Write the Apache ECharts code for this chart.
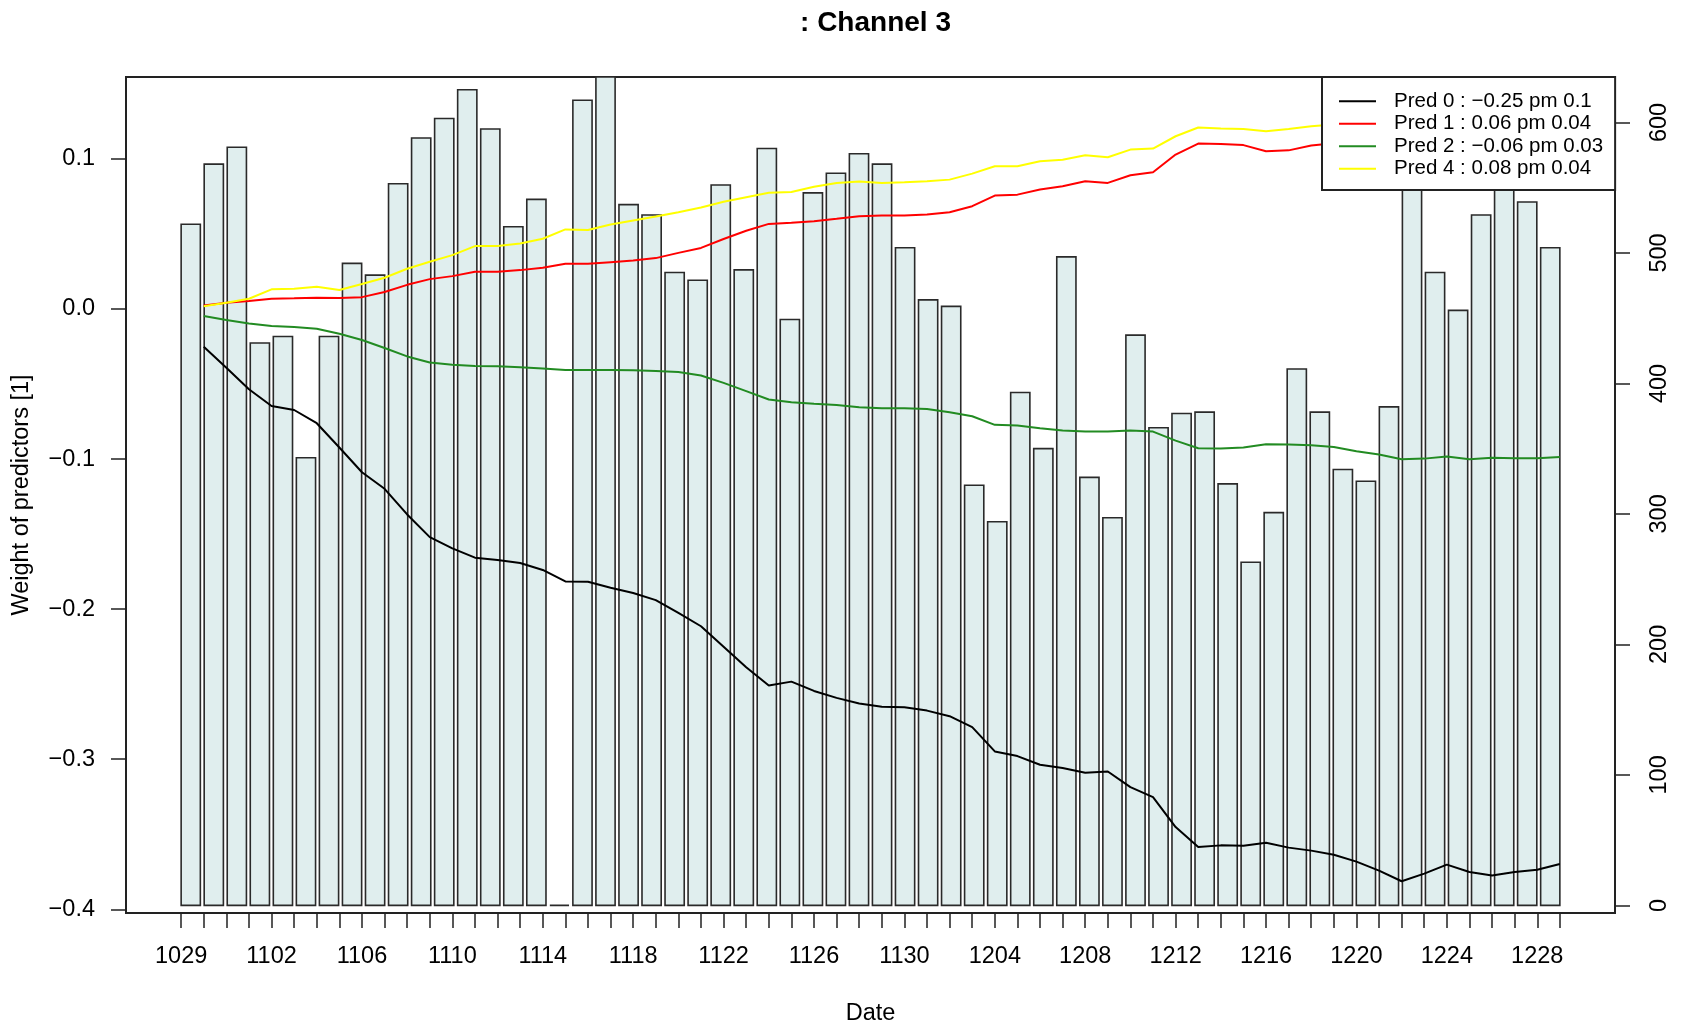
<!DOCTYPE html>
<html>
<head>
<meta charset="utf-8">
<script src="https://cdn.jsdelivr.net/npm/echarts@6/dist/echarts.min.js"></script>
<style>
  html, body { margin: 0; padding: 0; background: #ffffff; }
  #chart { width: 1685px; height: 1024px; }
</style>
</head>
<body>
<div id="chart"></div>
<script>
// Day labels (MMDD), one per axis tick
const dates = [
  '1029','1030','1031',
  '1101','1102','1103','1104','1105','1106','1107','1108','1109','1110',
  '1111','1112','1113','1114','1115','1116','1117','1118','1119','1120',
  '1121','1122','1123','1124','1125','1126','1127','1128','1129','1130',
  '1201','1202','1203','1204','1205','1206','1207','1208','1209','1210',
  '1211','1212','1213','1214','1215','1216','1217','1218','1219','1220',
  '1221','1222','1223','1224','1225','1226','1227','1228','1229'
];

// Daily sample counts (right axis)
const counts = [
  522, 568, 581, 431, 436, 343, 436, 492, 483, 553,
  588, 603, 625, 595, 520, 541,   0, 617, 660, 537,
  529, 485, 479, 552, 487, 580, 449, 546, 561, 576,
  568, 504, 464, 459, 322, 294, 393, 350, 497, 328,
  297, 437, 366, 377, 378, 323, 263, 301, 411, 378,
  334, 325, 382, 600, 485, 456, 529, 580, 539, 504
];

// Predictor weights (left axis), one value per day from the 2nd tick on
const pred0 = [
  -0.0251, -0.0391, -0.0535, -0.0646, -0.0673, -0.0761, -0.0923, -0.1088, -0.1198, -0.1369,
  -0.1520, -0.1595, -0.1657, -0.1673, -0.1693, -0.1739, -0.1815, -0.1817, -0.1857, -0.1892,
  -0.1940, -0.2025, -0.2114, -0.2250, -0.2387, -0.2509, -0.2483, -0.2545, -0.2591, -0.2629,
  -0.2651, -0.2653, -0.2676, -0.2713, -0.2786, -0.2948, -0.2979, -0.3037, -0.3059, -0.3090,
  -0.3082, -0.3186, -0.3252, -0.3452, -0.3585, -0.3574, -0.3577, -0.3556, -0.3589, -0.3609,
  -0.3636, -0.3682, -0.3742, -0.3813, -0.3762, -0.3702, -0.3751, -0.3774, -0.3751, -0.3736,
  -0.3698
];
const pred1 = [
  0.0024, 0.0042, 0.0053, 0.0068, 0.0071, 0.0075, 0.0073, 0.0079, 0.0113, 0.0161,
  0.0199, 0.0219, 0.0248, 0.0248, 0.0259, 0.0275, 0.0301, 0.0301, 0.0312, 0.0323,
  0.0339, 0.0374, 0.0407, 0.0466, 0.0521, 0.0567, 0.0574, 0.0585, 0.0601, 0.0618,
  0.0623, 0.0623, 0.0629, 0.0645, 0.0685, 0.0756, 0.0762, 0.0796, 0.0818, 0.0851,
  0.0840, 0.0891, 0.0911, 0.1029, 0.1102, 0.1100, 0.1092, 0.1051, 0.1057, 0.1089,
  0.1105, 0.1115, 0.1120, 0.1130, 0.1125, 0.1135, 0.1140, 0.1145, 0.1150, 0.1155,
  0.1160
];
const pred2 = [
  -0.0047, -0.0074, -0.0096, -0.0114, -0.0120, -0.0131, -0.0165, -0.0207, -0.0260, -0.0316,
  -0.0356, -0.0371, -0.0380, -0.0382, -0.0389, -0.0397, -0.0407, -0.0407, -0.0407, -0.0409,
  -0.0413, -0.0420, -0.0443, -0.0492, -0.0547, -0.0603, -0.0621, -0.0632, -0.0639, -0.0654,
  -0.0661, -0.0661, -0.0666, -0.0688, -0.0715, -0.0772, -0.0777, -0.0795, -0.0810, -0.0817,
  -0.0817, -0.0810, -0.0817, -0.0877, -0.0928, -0.0930, -0.0923, -0.0901, -0.0903, -0.0908,
  -0.0919, -0.0948, -0.0970, -0.1001, -0.0997, -0.0983, -0.1001, -0.0992, -0.0994, -0.0994,
  -0.0986
];
const pred4 = [
  0.0019, 0.0042, 0.0068, 0.0131, 0.0135, 0.0148, 0.0126, 0.0166, 0.0208, 0.0268,
  0.0315, 0.0359, 0.0419, 0.0419, 0.0437, 0.0468, 0.0530, 0.0526, 0.0563, 0.0590,
  0.0616, 0.0645, 0.0676, 0.0714, 0.0745, 0.0774, 0.0779, 0.0814, 0.0840, 0.0849,
  0.0840, 0.0845, 0.0851, 0.0862, 0.0902, 0.0951, 0.0951, 0.0984, 0.0995, 0.1024,
  0.1011, 0.1062, 0.1069, 0.1151, 0.1209, 0.1203, 0.1200, 0.1184, 0.1200, 0.1217,
  0.1230, 0.1245, 0.1260, 0.1275, 0.1270, 0.1290, 0.1300, 0.1310, 0.1320, 0.1330,
  0.1339
];

// Legend entries: name, colour
const legendNames = [
  'Pred 0 : \u22120.25 pm 0.1',
  'Pred 1 : 0.06 pm 0.04',
  'Pred 2 : \u22120.06 pm 0.03',
  'Pred 4 : 0.08 pm 0.04'
];
const lineColors = ['#000000', '#ff0000', '#228b22', '#ffff00'];

// Tick values
const leftTicks = [-0.4, -0.3, -0.2, -0.1, 0.0, 0.1];
const rightTicks = [0, 100, 200, 300, 400, 500, 600];
const dayTicks = dates.map((d, i) => i);
const dayLabelTicks = dates.map((d, i) => i).filter(i => i % 4 === 0 && i <= 60);

// Bar layout in day units: 60 bars (width 1, gap 0.2) stretched over the 61 day intervals
const nBars = counts.length;
const barSpan = nBars * 1.2 - 0.2;
const nIntervals = dates.length - 1;
const BAR_W = nIntervals / barSpan;
const BAR_PITCH = 1.2 * BAR_W;

const FONT = '"Liberation Sans", Arial, Helvetica, sans-serif';
const fmtSigned = v => (v < 0 ? '\u2212' : '') + Math.abs(v).toFixed(1);

const lineSeries = [pred0, pred1, pred2, pred4].map((arr, s) => ({
  name: legendNames[s],
  type: 'line',
  xAxisIndex: 0,
  yAxisIndex: 0,
  data: arr.map((v, i) => [i + 1, v]),
  showSymbol: false,
  symbol: 'none',
  lineStyle: { color: lineColors[s], width: 2 },
  itemStyle: { color: lineColors[s] },
  z: 3 + s,
  silent: true
}));

const chart = echarts.init(document.getElementById('chart'), null, { renderer: 'canvas' });

chart.setOption({
  animation: false,
  backgroundColor: '#ffffff',
  title: {
    text: ': Channel 3',
    left: 870.5,
    top: 4,
    textAlign: 'center',
    textStyle: { fontFamily: FONT, fontSize: 28, fontWeight: 'bold', color: '#000' }
  },
  grid: {
    left: 126, top: 77, width: 1489, height: 836,
    containLabel: false,
    outerBoundsMode: 'none',
    show: true, borderColor: '#222', borderWidth: 2, backgroundColor: 'transparent'
  },
  legend: {
    orient: 'vertical',
    left: 1322, top: 77,
    padding: [13, 12, 10, 17],
    itemWidth: 37, itemHeight: 2, itemGap: 0,
    icon: 'rect',
    backgroundColor: '#ffffff',
    borderColor: '#222', borderWidth: 2, borderRadius: 0,
    textStyle: { fontFamily: FONT, fontSize: 20.5, color: '#000', lineHeight: 22.5, padding: [0, 0, 0, 13] },
    data: legendNames,
    selectedMode: false,
    z: 10
  },
  xAxis: [{
    type: 'value',
    min: -2.44, max: 63.44,
    position: 'bottom',
    name: 'Date',
    nameLocation: 'middle',
    nameGap: 89,
    nameTextStyle: { fontFamily: FONT, fontSize: 23.5, color: '#000' },
    axisLine: { show: false, onZero: false },
    splitLine: { show: false },
    axisTick: { show: true, length: 15, inside: false, customValues: dayTicks,
                lineStyle: { color: '#222', width: 1.5 } },
    axisLabel: { show: true, margin: 32, customValues: dayLabelTicks,
                 formatter: v => dates[Math.round(v)],
                 fontFamily: FONT, fontSize: 23.5, color: '#000' }
  }],
  yAxis: [{
    type: 'value',
    position: 'left',
    min: -0.40246, max: 0.15458,
    name: 'Weight of predictors [1]',
    nameLocation: 'middle',
    nameGap: 92,
    nameTextStyle: { fontFamily: FONT, fontSize: 23.5, color: '#000' },
    axisLine: { show: false, onZero: false },
    splitLine: { show: false },
    axisTick: { show: true, length: 15, inside: false, customValues: leftTicks,
                lineStyle: { color: '#222', width: 1.5 } },
    axisLabel: { show: true, margin: 31, customValues: leftTicks, formatter: fmtSigned,
                 fontFamily: FONT, fontSize: 23.5, color: '#000' }
  }, {
    type: 'value',
    position: 'right',
    min: -5.82, max: 634.8,
    axisLine: { show: false, onZero: false },
    splitLine: { show: false },
    axisTick: { show: true, length: 15, inside: false, customValues: rightTicks,
                lineStyle: { color: '#222', width: 1.5 } },
    axisLabel: { show: true, margin: 33, rotate: 90, customValues: rightTicks,
                 formatter: v => String(v),
                 fontFamily: FONT, fontSize: 23.5, color: '#000' }
  }],
  series: [{
    name: 'counts',
    type: 'custom',
    xAxisIndex: 0,
    yAxisIndex: 1,
    data: counts.map((c, i) => [i, c]),
    encode: { x: 0, y: 1 },
    z: 1,
    silent: true,
    renderItem: (params, api) => {
      const i = api.value(0);
      const x0 = i * BAR_PITCH;
      const x1 = x0 + BAR_W;
      const base = api.coord([x0, 0]);
      const tip = api.coord([x1, api.value(1)]);
      const cs = params.coordSys;
      const top = Math.max(tip[1], cs.y);
      return {
        type: 'rect',
        shape: { x: base[0], y: top, width: tip[0] - base[0], height: base[1] - top },
        style: { fill: '#e0eeee', stroke: '#2a2a2a', lineWidth: 1.6 }
      };
    }
  }].concat(lineSeries)
});
</script>
</body>
</html>
